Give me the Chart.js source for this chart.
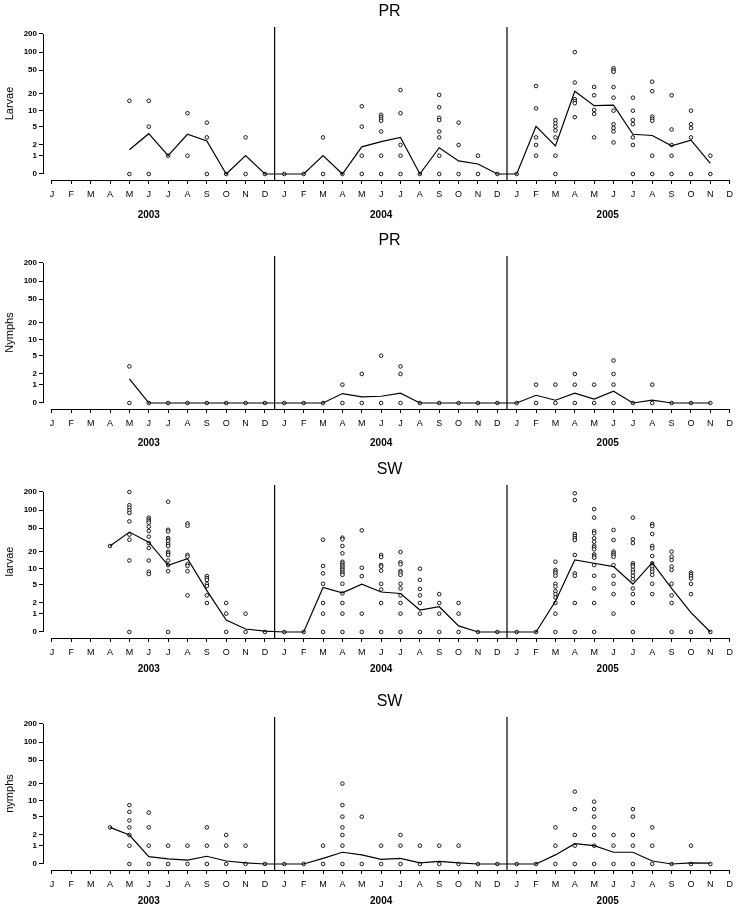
<!DOCTYPE html>
<html>
<head>
<meta charset="utf-8">
<script src="https://cdn.jsdelivr.net/npm/chart.js@4.4.1/dist/chart.umd.min.js"></script>
<style>
  html, body { margin: 0; padding: 0; background: #fff; overflow: hidden; }
  #wrap { position: relative; width: 741px; height: 907px; }
  #wrap canvas { position: absolute; left: 0; }
</style>
</head>
<body>
<div id="wrap"></div>
<script>
const d = document;

const months = ['J','F','M','A','M','J','J','A','S','O','N','D'];
const years = ['2003','2004','2005'];
const yearTickPos = [5, 17, 28.7];
const yTickVals = [0, 1, 2, 5, 10, 20, 50, 100, 200];
const yearBreaks = [11.5, 23.5];
const monthLabels = years.flatMap(() => months);

// monthly means, Jan 2003 .. Nov 2005 (null = no sampling)
const prLarvaeMean = [null,null,null,null, 1.5,3.6,1,3.5,2.5,0,1,0,
  0,0,1,0,1.8,2.4,3,0,1.7,0.64,0.46,0,
  0,5.1,1.9,22,12.3,12.6,3.5,3.3,1.9,2.6,0.5];
const prNymphMean = [null,null,null,null, 1.5,0,0,0,0,0,0,0,
  0,0,0,0.43,0.26,0.29,0.45,0,0,0,0,0,
  0,0.34,0.11,0.45,0.16,0.56,0,0.11,0,0,0];
const swLarvaeMean = [null,null,null, 25,43,29,11.5,15,3.8,0.57,0.12,0.03,
  0,0,4.4,3.4,5.1,3.55,3.3,1.3,1.6,0.26,0,0,
  0,0,2.2,14.3,12.5,10.9,5.15,12.8,4.2,1.08,0];
const swNymphMean = [null,null,null, 3,2,0.32,0.21,0.16,0.34,0.12,0.04,0,
  0,0,0.24,0.56,0.41,0.19,0.24,0.04,0.1,0.04,0,0,
  0,0,0.41,1.16,1,0.56,0.56,0.12,0,0.04,0.03];

// individual counts per month
const prLarvaeObs = [
  [], [], [], [], [15,0], [15,5,0], [1], [9,1], [6,3,0], [0], [3,0], [0],
  [0], [0], [3,0], [0], [12,5,1,0], [8.4,7.7,7.1,6.5,4,1,0], [23,9,2,1,0], [0],
  [19,11.5,7.4,6.7,4,3,1,0], [6,2,0], [1,0], [0],
  [0], [27,11,3,2,1], [6.7,5.8,5,4.2,3,1,0], [100,31,16,14.7,13.6,7.6], [26,18.7,10.3,8.7,3],
  [54,50,47,26,17,10,5.6,4.7,4,2.3], [17,10,6.7,5.6,3,2,0], [32,22,7.8,7.1,6.5,1,0],
  [18.7,4.4,2,1,0], [10,5.6,4.7,3,0], [1,0]
];
const prNymphObs = [
  [], [], [], [], [3,0], [0], [0], [0], [0], [0], [0], [0],
  [0], [0], [0], [1,0], [2,0], [5,0], [3,2,0], [0], [0], [0], [0], [0],
  [0], [1,0], [1,0], [2,1,0], [1,0], [4,2,1,0], [0], [1,0], [0], [0], [0]
];
const swLarvaeObs = [
  [], [], [], [25],
  [200,121,110,99,90,65,39,32,14,0],
  [75,70,66,62,53,45,36,28,23,14,8.8,8],
  [138,47,44,34,32,30,27,25,20,18.7,17.5,14,11.6,9,0],
  [60,55,17.5,16.3,12,11.2,9,3],
  [7.3,6.7,6.2,5.2,4.7,3,2],
  [2,1,0], [1,0], [0],
  [0], [0],
  [32,11.2,8.2,5.2,2,1,0],
  [34.6,32.5,25,18.7,13.3,12.5,11.6,10.9,10.1,9.5,8.8,8.2,7.7,5.2,3.3,2,1,0],
  [46,10.4,7.3,1,0],
  [17.5,16.1,11.6,10.9,9.2,5.2,4,2,0],
  [19.7,13,12,9,8.5,7.7,5.2,4.2,3,2,1,0],
  [10,6.2,4.1,3,2,1,0],
  [3.2,2,1,0],
  [2,1,0], [0], [0],
  [0], [0],
  [13.3,9.5,8.8,8.2,7.4,5.2,4.6,3.7,3.2,2.7,2,1,0],
  [190,147,40,37,34,31.6,17.5,8.2,7.4,2,0],
  [104,75,44.8,41,33.8,29.6,25.3,23.7,21.9,17.9,16.8,15.7,11.6,7.4,4.2,2,0],
  [46.6,31.6,20,18.7,17.5,16.3,11.6,7.4,5.2,3.2,1],
  [75,32.5,28,12.5,11.6,10.9,9.5,8.5,7.4,6.4,4.2,3.2,2,0],
  [58.7,54.4,40,25,22.8,16.8,12.5,10.9,9.7,8.8,7.7,5.2,3.2],
  [20,16.3,14.3,10.9,9.5,5.2,3,2,0],
  [8.5,7.9,7.3,6.6,5.2,3.2,0],
  [0]
];
const swNymphObs = [
  [], [], [], [3], [8.3,6.2,4.2,3,2,1,0], [6,3,1,0], [1,0], [1,0], [3,1,0], [2,1,0], [1,0], [0],
  [0], [0], [1,0], [20,8.3,5,3,2,1,0], [5,0], [1,0], [2,1,0], [1,0], [1,0], [1,0], [0], [0],
  [0], [0], [3,1,0], [14.5,7,2,1,0], [9.6,7,5,3,2,1,0], [2,1,0], [7,5,2,1,0], [3,1,0], [0], [1,0], [0]
];

const FONT = "'Liberation Sans', Arial, Helvetica, sans-serif";
const tf = v => Math.log10(v + 1);   // axis is log(x+1)
const X_MIN = -0.4615, X_MAX = 35.33;
const Y_MIN = tf(0) - 0.099, Y_MAX = tf(200) + 0.115;

const panels = [
  { title: 'PR', yLabel: 'Larvae', mean: prLarvaeMean, obs: prLarvaeObs, top: 0, yearPad: 4 },
  { title: 'PR', yLabel: 'Nymphs', mean: prNymphMean, obs: prNymphObs, top: 229, yearPad: 3 },
  { title: 'SW', yLabel: 'larvae', mean: swLarvaeMean, obs: swLarvaeObs, top: 458, yearPad: 0 },
  { title: 'SW', yLabel: 'nymphs', mean: swNymphMean, obs: swNymphObs, top: 690, yearPad: 0 }
];

// R style axes: line only from first to last tick
const rAxes = {
  id: 'rAxes',
  afterDraw(chart) {
    const { ctx, chartArea, scales: { x, y } } = chart;
    const bx = Math.round(chartArea.bottom) + 0.5;
    const lx = Math.round(chartArea.left) + 0.5;
    ctx.save();
    ctx.strokeStyle = '#000';
    ctx.lineWidth = 1;
    ctx.beginPath();
    ctx.moveTo(x.getPixelForValue(0), bx);
    ctx.lineTo(x.getPixelForValue(monthLabels.length - 1), bx);
    ctx.moveTo(lx, y.getPixelForValue(tf(yTickVals[0])));
    ctx.lineTo(lx, y.getPixelForValue(tf(yTickVals[yTickVals.length - 1])));
    ctx.stroke();
    ctx.restore();
  }
};

function makePanel(p) {
  const cv = d.createElement('canvas');
  cv.width = 741;
  cv.height = 228;
  cv.style.top = p.top + 'px';
  d.getElementById('wrap').appendChild(cv);

  const obsPts = p.obs.flatMap((vals, i) => vals.map(v => ({ x: i, y: tf(v) })));
  const meanPts = p.mean.flatMap((v, i) => v === null ? [] : [{ x: i, y: tf(v) }]);
  const breakSets = yearBreaks.map(b => ({
    data: [{ x: b, y: Y_MIN }, { x: b, y: Y_MAX }],
    showLine: true, borderColor: '#000', borderWidth: 1.2, pointRadius: 0
  }));

  return new Chart(cv, {
    type: 'scatter',
    data: {
      datasets: [
        ...breakSets,
        { data: meanPts, showLine: true, borderColor: '#000', borderWidth: 1.2, pointRadius: 0, tension: 0 },
        { data: obsPts, pointRadius: 1.8, borderWidth: 0.9, borderColor: '#000', backgroundColor: '#fff' }
      ]
    },
    options: {
      responsive: false,
      animation: false,
      events: [],
      layout: { padding: 0 },
      plugins: {
        legend: { display: false },
        tooltip: { enabled: false },
        title: {
          display: true, text: p.title, fullSize: false, color: '#000',
          font: { family: FONT, size: 16, weight: 'normal' },
          padding: { top: 2, bottom: 5.8 }
        }
      },
      scales: {
        x: {
          type: 'linear', position: 'bottom', min: X_MIN, max: X_MAX, weight: 0,
          afterFit: s => { s.height = 25; },
          afterBuildTicks: s => { s.ticks = monthLabels.map((m, i) => ({ value: i })); },
          ticks: {
            autoSkip: false, maxRotation: 0, padding: 5.5, color: '#000',
            callback: (val, i) => monthLabels[i],
            font: { family: FONT, size: 9 }
          },
          grid: { drawOnChartArea: false, drawTicks: true, tickLength: 4, color: '#000' },
          border: { display: false }
        },
        x2: {
          type: 'linear', position: 'bottom', min: X_MIN, max: X_MAX, weight: 1,
          afterFit: s => { s.height = 23; },
          afterBuildTicks: s => { s.ticks = yearTickPos.map(v => ({ value: v })); },
          ticks: {
            autoSkip: false, maxRotation: 0, padding: p.yearPad, color: '#000',
            callback: (val, i) => years[i],
            font: { family: FONT, size: 10, weight: 'bold' }
          },
          grid: { display: false, drawTicks: false },
          border: { display: false }
        },
        y: {
          type: 'linear', min: Y_MIN, max: Y_MAX, bounds: 'data',
          afterFit: s => { s.width = 43; },
          afterBuildTicks: s => { s.ticks = yTickVals.map(v => ({ value: tf(v) })); },
          ticks: {
            autoSkip: false, padding: 2, color: '#000',
            callback: (val, i) => yTickVals[i],
            font: { family: FONT, size: 8, weight: 'bold' }
          },
          grid: { drawOnChartArea: false, drawTicks: true, tickLength: 4, color: '#000' },
          border: { display: false },
          title: {
            display: true, text: p.yLabel, color: '#000',
            padding: { top: 3, bottom: 0 },
            font: { family: FONT, size: 11 }
          }
        }
      }
    },
    plugins: [rAxes]
  });
}

panels.forEach(makePanel);
</script>
</body>
</html>
